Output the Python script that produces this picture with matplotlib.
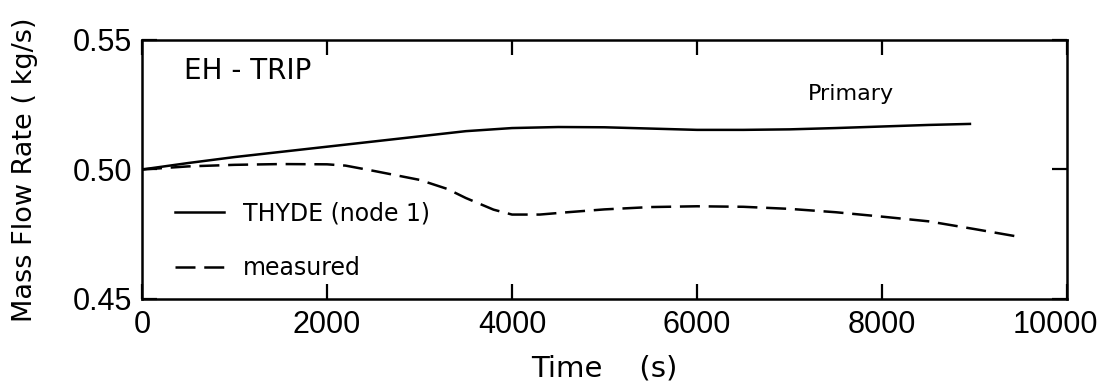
import matplotlib as mpl
import matplotlib.pyplot as plt
from matplotlib.transforms import ScaledTranslation

# values
t_thyde = [0, 500, 1000, 1500, 2000, 2500, 3000, 3500, 4000, 4500, 5000, 5500, 6000, 6500, 7000, 7500, 8000, 8500, 8950]
m_thyde = [0.500, 0.5025, 0.5048, 0.5068, 0.5088, 0.5108, 0.5128, 0.5148, 0.5160, 0.5164, 0.5163, 0.5158, 0.5153, 0.5153, 0.5155, 0.5160, 0.5166, 0.5172, 0.5176]

t_meas = [0, 500, 1000, 1500, 2000, 2200, 2500, 3000, 3300, 3500, 3800, 4000, 4300, 4600, 5000, 5500, 6000, 6500, 7000, 7500, 8000, 8500, 9000, 9450]
m_meas = [0.500, 0.5012, 0.5018, 0.5021, 0.5020, 0.5015, 0.4995, 0.4960, 0.4925, 0.4890, 0.4845, 0.4826, 0.4826, 0.4835, 0.4846, 0.4855, 0.4858, 0.4856, 0.4848, 0.4835, 0.4818, 0.4800, 0.4770, 0.4742]

x_ticks = [0, 2000, 4000, 6000, 8000, 10000]
y_ticks = [0.45, 0.50, 0.55]
y_tick_labels = ["0.45", "0.50", "0.55"]

mpl.rcParams.update({
    "font.family": "DejaVu Sans",
    "axes.linewidth": 1.8,
    "xtick.direction": "in", "ytick.direction": "in",
    "xtick.major.size": 11, "ytick.major.size": 11,
    "xtick.major.width": 1.6, "ytick.major.width": 1.6,
})

fig = plt.figure(figsize=(11.06, 3.91), dpi=100)
ax = fig.add_axes([0.1284, 0.2353, 0.8364, 0.6624])

ax.plot(t_thyde, m_thyde, color="black", lw=1.8, label="THYDE (node 1)")
ax.plot(t_meas, m_meas, color="black", lw=1.8, dashes=(8, 3.5), label="measured")

ax.set_xlim(0, 10000)
ax.set_ylim(0.45, 0.55)
ax.set_xticks(x_ticks)
ax.set_yticks(y_ticks)
ax.set_yticklabels(y_tick_labels)
ax.tick_params(axis="x", top=True, labelsize=22, pad=8)
ax.tick_params(axis="y", right=True, labelsize=22, pad=7)
for lab in ax.get_xticklabels() + ax.get_yticklabels():
    lab.set_family("Liberation Sans")
# the last x label sits a bit left of its tick in the original
last = ax.get_xticklabels()[-1]
last.set_transform(last.get_transform() + ScaledTranslation(-12 / 100, 0, fig.dpi_scale_trans))

ax.set_xlabel("Time    (s)", fontsize=21)
ax.xaxis.set_label_coords(0.5, -0.27)
ax.xaxis.label.set_va("center")
ax.set_ylabel("Mass Flow Rate ( kg/s)", fontsize=19.5)
ax.yaxis.set_label_coords(-0.112, 0.5)

ax.text(0.045, 0.88, "EH - TRIP", transform=ax.transAxes, fontsize=20, va="center", ha="left")
ax.text(0.72, 0.79, "Primary", transform=ax.transAxes, fontsize=16, va="center", ha="left")

ax.legend(loc="lower left", bbox_to_anchor=(0.015, 0.0), frameon=False,
          prop={"family": "DejaVu Sans", "size": 17},
          handlelength=2.1, handletextpad=0.8, labelspacing=1.3, borderaxespad=0.4)

fig.savefig("out.png", dpi=100)
